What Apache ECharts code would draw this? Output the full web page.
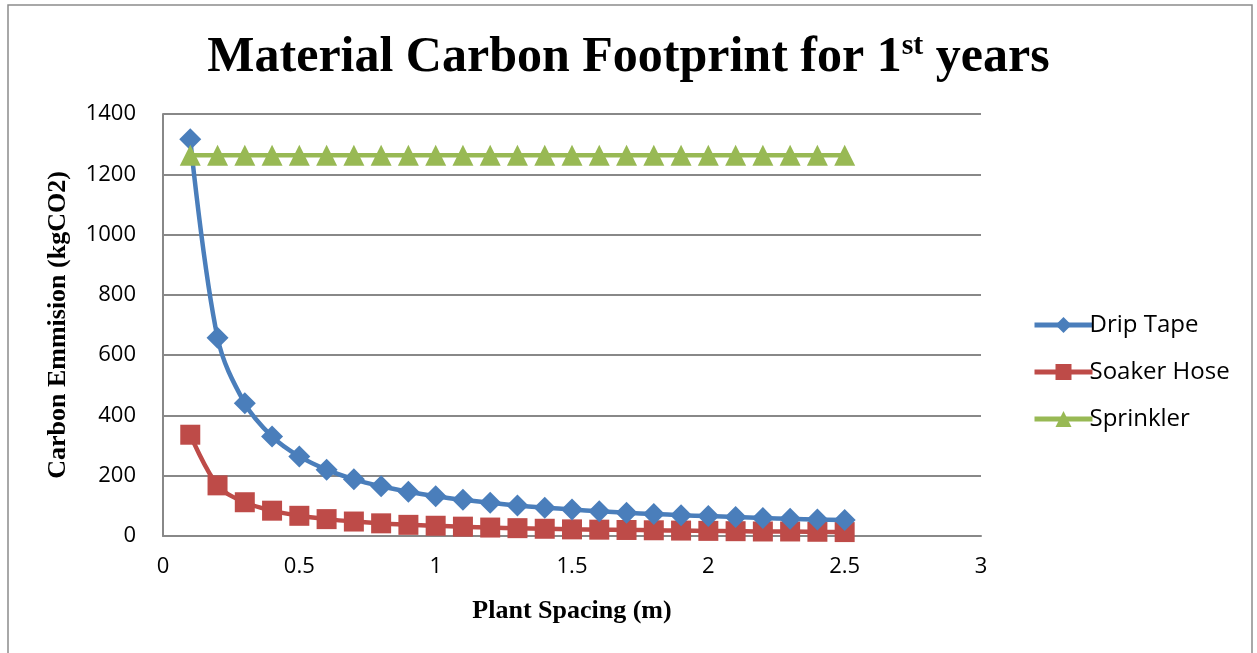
<!DOCTYPE html>
<html><head><meta charset="utf-8">
<script src="https://cdn.jsdelivr.net/npm/echarts@6/dist/echarts.min.js"></script>
<style>html,body{margin:0;padding:0;background:#fff}#c{width:1257px;height:653px}</style>
</head><body><div id="c"></div>
<script>
const spacing = [0.1,0.2,0.3,0.4,0.5,0.6,0.7,0.8,0.9,1.0,1.1,1.2,1.3,1.4,1.5,1.6,1.7,1.8,1.9,2.0,2.1,2.2,2.3,2.4,2.5];
const dripTape = [1316,658,440,330,264,220,188,165,147,132,120,110,101,94,88,82,77,73,69,66,63,60,57,55,53];
const soakerHose = [336,168,112,84,67,56,48,42,37,34,31,28,26,24,22,21,20,19,18,17,16,15,15,14,13];
const sprinkler = [1263,1263,1263,1263,1263,1263,1263,1263,1263,1263,1263,1263,1263,1263,1263,1263,1263,1263,1263,1263,1263,1263,1263,1263,1263];
const seriesNames = ['Drip Tape','Soaker Hose','Sprinkler'];
const colors = ['#4a7ebb','#be4b48','#98b954'];
const pairs = a => spacing.map((x,i)=>[x,a[i]]);
const chart = echarts.init(document.getElementById('c'));
chart.setOption({
  animation:false,
  graphic:[{type:'rect',shape:{x:8,y:5,width:1244,height:660},style:{fill:'none',stroke:'#8c8c8c',lineWidth:1.5},silent:true}],
  title:{text:'Material Carbon Footprint for 1{s|st} years',left:'center',top:26,
    textStyle:{fontFamily:'Liberation Serif',fontWeight:'bold',fontSize:50,color:'#000',
      rich:{s:{fontFamily:'Liberation Serif',fontWeight:'bold',fontSize:30,verticalAlign:'top',padding:[0,0,24,0],color:'#000'}}}},
  grid:{left:163,right:276,top:114,bottom:117},
  legend:{orient:'vertical',left:1027,top:308,itemGap:23,itemWidth:58,itemHeight:20,
    lineStyle:{width:5},
    textStyle:{fontFamily:'Open Sans',fontSize:24,color:'#000',padding:[0,0,0,-8]},
    data:seriesNames},
  xAxis:{type:'value',min:0,max:3,interval:0.5,
    name:'Plant Spacing (m)',nameLocation:'middle',nameGap:62,
    nameTextStyle:{fontFamily:'Liberation Serif',fontWeight:'bold',fontSize:26,color:'#000'},
    axisLine:{lineStyle:{color:'#888',width:2}},axisTick:{show:false},splitLine:{show:false},
    axisLabel:{fontFamily:'Open Sans',fontSize:22,color:'#000',margin:20}},
  yAxis:{type:'value',min:0,max:1400,interval:200,
    name:'Carbon Emmision (kgCO2)',nameLocation:'middle',nameGap:92,
    nameTextStyle:{fontFamily:'Liberation Serif',fontWeight:'bold',fontSize:26,color:'#000'},
    axisLine:{show:true,lineStyle:{color:'#888',width:2}},axisTick:{show:false},
    splitLine:{lineStyle:{color:'#888',width:2}},
    axisLabel:{fontFamily:'Open Sans',fontSize:22,color:'#000',margin:27,formatter:v=>String(v)}},
  series:[
    {name:seriesNames[0],type:'line',data:pairs(dripTape),smooth:0.35,symbol:'diamond',symbolSize:22,
      lineStyle:{color:colors[0],width:4.5},itemStyle:{color:colors[0]},z:3},
    {name:seriesNames[1],type:'line',data:pairs(soakerHose),smooth:0.35,symbol:'rect',symbolSize:20,
      lineStyle:{color:colors[1],width:4.5},itemStyle:{color:colors[1]},z:2},
    {name:seriesNames[2],type:'line',data:pairs(sprinkler),symbol:'triangle',symbolSize:21,
      lineStyle:{color:colors[2],width:4.5},itemStyle:{color:colors[2]},z:4}
  ]
});
</script></body></html>
